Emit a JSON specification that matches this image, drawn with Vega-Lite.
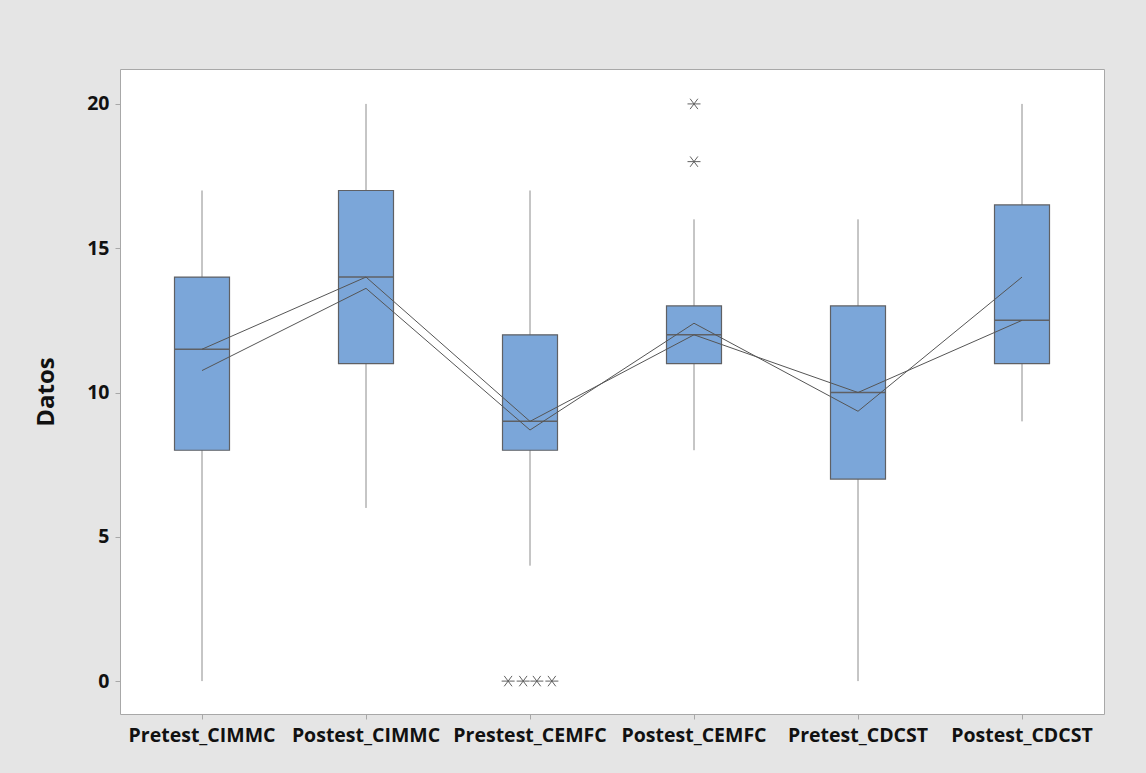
{
  "$schema": "https://vega.github.io/schema/vega-lite/v6.json",
  "width": 984,
  "height": 645,
  "autosize": {"type": "none"},
  "padding": {"left": 120, "top": 69, "right": 42, "bottom": 59},
  "background": "#e5e5e5",
  "config": {
    "view": {"fill": "white", "stroke": "#a8a8a8", "strokeWidth": 1},
    "font": "Open Sans",
    "axis": {"grid": false, "domain": false, "tickColor": "#a8a8a8", "tickSize": 5, "labelFont": "Open Sans", "labelFontWeight": "bold", "labelFontSize": 19.5, "labelColor": "#111111", "titleFont": "Open Sans", "titleFontWeight": "bold", "titleFontSize": 24, "titleColor": "#111111"}
  },
  "datasets": {
    "stats": [
      {"cat": "Pretest_CIMMC", "lo": 0, "q1": 8, "med": 11.5, "q3": 14, "hi": 17, "mean": 10.76},
      {"cat": "Postest_CIMMC", "lo": 6, "q1": 11, "med": 14, "q3": 17, "hi": 20, "mean": 13.61},
      {"cat": "Prestest_CEMFC", "lo": 4, "q1": 8, "med": 9, "q3": 12, "hi": 17, "mean": 8.7},
      {"cat": "Postest_CEMFC", "lo": 8, "q1": 11, "med": 12, "q3": 13, "hi": 16, "mean": 12.4},
      {"cat": "Pretest_CDCST", "lo": 0, "q1": 7, "med": 10, "q3": 13, "hi": 16, "mean": 9.35},
      {"cat": "Postest_CDCST", "lo": 9, "q1": 11, "med": 12.5, "q3": 16.5, "hi": 20, "mean": 14}
    ],
    "outliers": [
      {"cat": "Prestest_CEMFC", "value": 0, "jit": -1.6},
      {"cat": "Prestest_CEMFC", "value": 0, "jit": -0.5},
      {"cat": "Prestest_CEMFC", "value": 0, "jit": 0.5},
      {"cat": "Prestest_CEMFC", "value": 0, "jit": 1.6},
      {"cat": "Postest_CEMFC", "value": 18, "jit": 0},
      {"cat": "Postest_CEMFC", "value": 20, "jit": 0}
    ]
  },
  "encoding": {
    "x": {
      "field": "cat", "type": "nominal",
      "scale": {"type": "band", "domain": ["Pretest_CIMMC", "Postest_CIMMC", "Prestest_CEMFC", "Postest_CEMFC", "Pretest_CDCST", "Postest_CDCST"], "paddingInner": 0, "paddingOuter": 0},
      "axis": {"title": null, "labelAngle": 0, "labelPadding": 7}
    }
  },
  "layer": [
    {
      "data": {"name": "stats"},
      "mark": {"type": "rule", "color": "#8c8c8c", "strokeWidth": 1},
      "encoding": {
        "y": {"field": "lo", "type": "quantitative", "scale": {"domain": [-1.14, 21.21], "nice": false, "zero": false}, "axis": {"title": "Datos", "values": [0, 5, 10, 15, 20], "labelPadding": 6, "titlePadding": 28}},
        "y2": {"field": "hi"}
      }
    },
    {
      "data": {"name": "stats"},
      "mark": {"type": "bar", "size": 55, "fill": "#7ba6d9", "stroke": "#5f6064", "strokeWidth": 1.2},
      "encoding": {
        "y": {"field": "q1", "type": "quantitative"},
        "y2": {"field": "q3"}
      }
    },
    {
      "data": {"name": "stats"},
      "mark": {"type": "tick", "size": 55, "thickness": 1.5, "color": "#5f6064", "opacity": 1},
      "encoding": {
        "y": {"field": "med", "type": "quantitative"}
      }
    },
    {
      "data": {"name": "stats"},
      "mark": {"type": "line", "color": "#555555", "strokeWidth": 1},
      "encoding": {
        "y": {"field": "med", "type": "quantitative"}
      }
    },
    {
      "data": {"name": "stats"},
      "mark": {"type": "line", "color": "#555555", "strokeWidth": 1},
      "encoding": {
        "y": {"field": "mean", "type": "quantitative"}
      }
    },
    {
      "data": {"name": "outliers"},
      "mark": {"type": "point", "shape": "M-1,0L1,0M-0.6,-0.8L0.6,0.8M0.6,-0.8L-0.6,0.8", "filled": false, "stroke": "#606060", "strokeWidth": 1, "size": 169, "opacity": 1},
      "encoding": {
        "y": {"field": "value", "type": "quantitative"},
        "xOffset": {"field": "jit", "type": "quantitative", "scale": {"domain": [-6, 6]}}
      }
    }
  ]
}
